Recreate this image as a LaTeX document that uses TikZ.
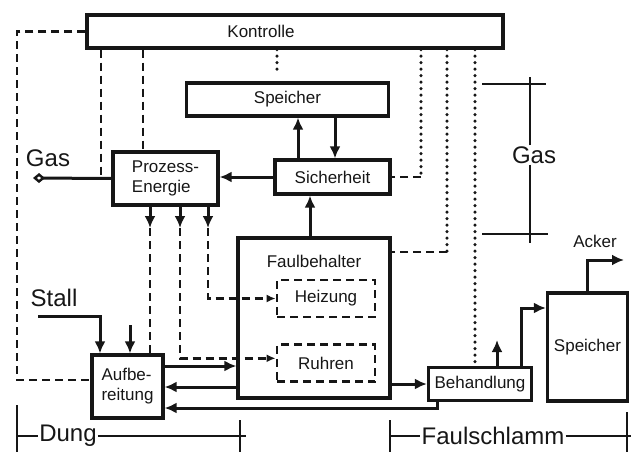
\documentclass[tikz,border=0pt]{standalone}
\usepackage{fontspec}
\setmainfont{Liberation Sans}
\usepackage{tikz}
\usetikzlibrary{arrows.meta,positioning}
\definecolor{ink}{RGB}{22,22,22}
\tikzstyle{blk}=[rectangle,draw=ink,line width=3.2pt,inner sep=2pt,align=center,
                 text=ink,font=\fontsize{17}{20}\selectfont]
\tikzstyle{sub}=[blk,line width=2.8pt,dash pattern=on 8pt off 5pt]
\tikzstyle{tag}=[text=ink,font=\fontsize{17}{20}\selectfont]
\tikzstyle{lbl}=[text=ink,inner sep=1pt,font=\fontsize{24}{26}\selectfont]
\tikzstyle{flow}=[line width=3pt,draw=ink]
\tikzstyle{arrow}=[-{Latex[length=12pt,width=11pt]},line width=3pt,draw=ink]
\tikzstyle{ctrl}=[line width=2.8pt,draw=ink,dash pattern=on 8pt off 5pt]
\tikzstyle{sig}=[line width=3.4pt,draw=ink,line cap=round,dash pattern=on 0pt off 6.5pt]
\tikzstyle{dim}=[line width=2.4pt,draw=ink]

\begin{document}
\begin{tikzpicture}[x=1pt,y=-1pt]
      \useasboundingbox (0,0) rectangle (631,452);
      % blocks
      \node[blk,minimum width=416pt,minimum height=33pt,
            label={[tag,xshift=-34pt]center:Kontrolle}] (kon) at (295,31.5) {};
      \node[blk,minimum width=202pt,minimum height=33pt] (sp) at (287.5,99.5) {Speicher};
      \node[blk,minimum width=115pt,minimum height=34pt] (sich) at (332.5,177) {Sicherheit};
      \node[blk,minimum width=105pt,minimum height=53pt,align=left] (pe) at (165.5,178.5) {Prozess-\\Energie};
      \node[blk,minimum width=152pt,minimum height=160pt,
            label={[tag,anchor=north,yshift=-15pt]north:Faulbehalter}] (fb) at (314,318) {};
      \node[sub,minimum width=98pt,minimum height=37pt] (hz) at (326,298.5) {Heizung};
      \node[sub,minimum width=98pt,minimum height=37pt,below=25pt of hz] (ru) {Ruhren};
      \node[blk,minimum width=71pt,minimum height=63pt,align=left] (auf) at (127.5,386.5) {Aufbe-\\reitung};
      \node[blk,minimum width=103pt,minimum height=33pt] (beh) at (480,384) {Behandlung};
      \node[blk,minimum width=80pt,minimum height=108pt] (sp2) at (587.5,347) {Speicher};
      % labels
      \node[lbl] (gasl) at (48,158) {Gas};
      \node[lbl] (gasr) at (534,155) {Gas};
      \node[lbl] (stall) at (54,298) {Stall};
      \node[tag] (acker) at (595,241) {Acker};
      \node[lbl] (dung) at (68,436) {Dung};
      \node[lbl] (schlamm) at (493,436) {Faulschlamm};
      % helper points
      \coordinate (gasend) at (33,178);
      \coordinate (k0) at (17,380);
      \coordinate (k1) at (101,178);
      \coordinate (k2) at (143,0);
      \coordinate (k3) at (277,72);
      \coordinate (k4) at (421,0);
      \coordinate (k5) at (447,252);
      \coordinate (k6) at (475,362);
      \coordinate (v1) at (298,0);
      \coordinate (v2) at (335,0);
      \coordinate (v3) at (310,0);
      \coordinate (d1) at (150,228);
      \coordinate (d2) at (180,228);
      \coordinate (d3) at (208,228);
      \coordinate (s0) at (38,316);
      \coordinate (s1) at (100,0);
      \coordinate (s2) at (130,325);
      \coordinate (h1) at (0,366);
      \coordinate (h2) at (0,387);
      \coordinate (r1) at (437,408);
      \coordinate (r2) at (521,308);
      \coordinate (r3) at (497,340);
      \coordinate (r4) at (624,260);
      % control lines
      \draw[ctrl] (kon.west) -| (k0) -- (k0 -| auf.west);
      \draw[ctrl] (kon.south -| k1) -- (k1);
      \draw[ctrl] (kon.south -| k2) -- (pe.north -| k2);
      \draw[sig] (kon.south -| k3) -- (k3);
      \draw[sig] (kon.south -| k4) -- (sich.east -| k4);
      \draw[ctrl] (sich.east -| k4) -- (sich.east);
      \draw[sig] (kon.south -| k5) -- (k5);
      \draw[ctrl] (k5) -- (k5 -| fb.east);
      \draw[sig] (kon.south -| k6) -- (k6);
      % gas path
      \draw[arrow] (sich.north -| v1) -- (sp.south -| v1);
      \draw[arrow] (sp.south -| v2) -- (sich.north -| v2);
      \draw[arrow] (sich.west) -- (pe.east |- sich.west);
      \draw[arrow] (fb.north -| v3) -- (sich.south -| v3);
      \draw[flow,-{Diamond[open,length=12pt,width=10pt,line width=2.4pt]}] (pe.west) -- (gasend);
      % energy to plant
      \draw[arrow] (pe.south -| d1) -- (d1);
      \draw[ctrl] (d1) -- (auf.north -| d1);
      \draw[arrow] (pe.south -| d2) -- (d2);
      \draw[ctrl,-{Latex[length=9pt,width=8pt]}] (d2) |- ([yshift=5pt]ru.west);
      \draw[arrow] (pe.south -| d3) -- (d3);
      \draw[ctrl,-{Latex[length=9pt,width=8pt]}] (d3) |- (hz.west);
      % manure and sludge
      \draw[arrow] (s0) -| (auf.north -| s1);
      \draw[arrow] (s2) -- (auf.north -| s2);
      \draw[arrow] (auf.east |- h1) -- (fb.west |- h1);
      \draw[arrow] (fb.west |- h2) -- (auf.east |- h2);
      \draw[arrow] (fb.east |- beh.west) -- (beh.west);
      \draw[arrow] (beh.south -| r1) -- (r1) -- (auf.east |- r1);
      \draw[arrow] (beh.north -| r2) -- (r2) -- (sp2.west |- r2);
      \draw[arrow] (beh.north -| r3) -- (r3);
      \draw[arrow] (sp2.north) |- (r4);
      % brackets
      \coordinate (g1) at (482,84);
      \coordinate (g2) at (546,84);
      \coordinate (g3) at (482,234);
      \coordinate (g4) at (548,234);
      \coordinate (gt) at (530,77);
      \coordinate (gb) at (530,243);
      \draw[dim] (g1) -- (g2);
      \draw[dim] (g3) -- (g4);
      \draw[dim] (gasr.north -| gt) -- (gt);
      \draw[dim] (gasr.south -| gb) -- (gb);
      \coordinate (b1) at (17,405);
      \coordinate (b2) at (17,452);
      \coordinate (b3) at (240,420);
      \coordinate (b4) at (240,452);
      \coordinate (b5) at (246,440);
      \draw[dim] (b1) -- (b2);
      \draw[dim] (b3) -- (b4);
      \draw[dim] (dung.west -| b1) -- (dung.west);
      \draw[dim] (dung.east) -- (dung.east -| b5);
      \coordinate (f1) at (390,420);
      \coordinate (f2) at (390,452);
      \coordinate (f3) at (627,412);
      \coordinate (f4) at (627,452);
      \coordinate (f5) at (631,440);
      \draw[dim] (f1) -- (f2);
      \draw[dim] (f3) -- (f4);
      \draw[dim] (schlamm.west -| f1) -- (schlamm.west);
      \draw[dim] (schlamm.east) -- (schlamm.east -| f5);
    \end{tikzpicture}
\end{document}
